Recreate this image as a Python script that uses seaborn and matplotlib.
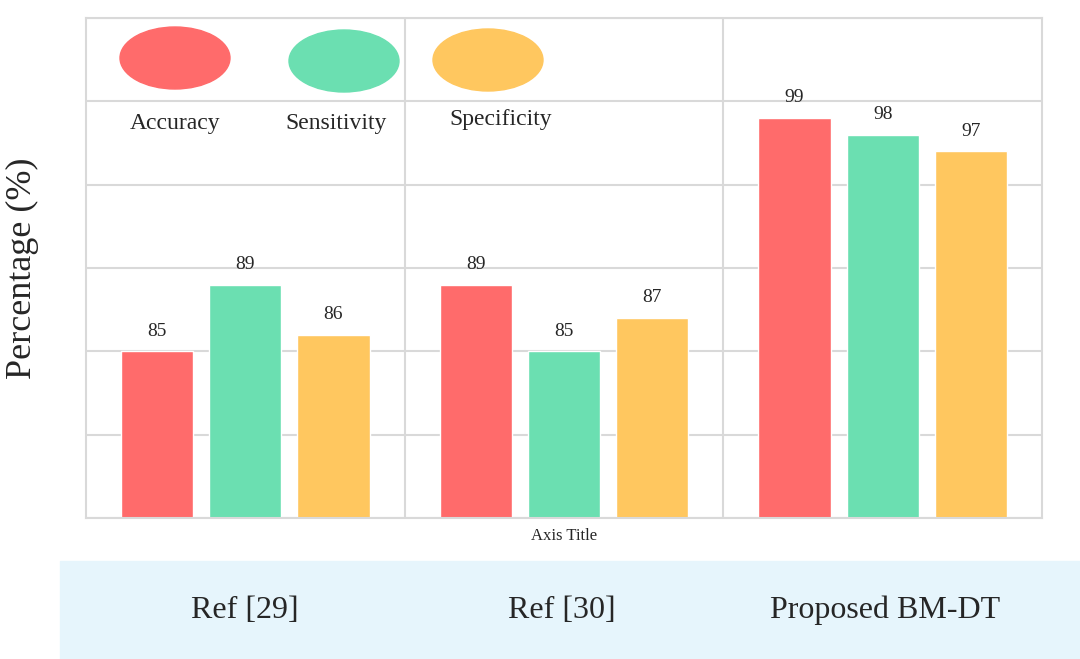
import matplotlib
matplotlib.use("Agg")
import matplotlib.pyplot as plt
import seaborn as sns
import pandas as pd
from matplotlib.patches import Ellipse, Rectangle

categories = ["Ref [29]", "Ref [30]", "Proposed BM-DT"]
metrics = ["Accuracy", "Sensitivity", "Specificity"]
accuracy = [85, 89, 99]
sensitivity = [89, 85, 98]
specificity = [86, 87, 97]
colors = ["#FF6B6B", "#6BDFB1", "#FFC75F"]

rows = []
for i, c in enumerate(categories):
    for m, vals in zip(metrics, [accuracy, sensitivity, specificity]):
        rows.append({"cat": c, "metric": m, "val": vals[i]})
df = pd.DataFrame(rows)

sns.set_theme(style="white")
plt.rcParams['font.family'] = ['Liberation Serif', 'DejaVu Serif']

fig = plt.figure(figsize=(10.8, 6.59), dpi=100)
ax = fig.add_axes([86/1080, 1-518/659, (1042-86)/1080, 500/659])
sns.barplot(data=df, x="cat", y="val", hue="metric", palette=colors, ax=ax,
            width=0.83, gap=0.18, legend=False, saturation=1)
ax.set_ylim(75, 105)
ax.set_xlim(-0.5, 2.5)
ax.set_yticks([75, 80, 85, 90, 95, 100, 105])
ax.set_yticklabels([])
ax.tick_params(length=0)
ax.grid(axis="y", color="#d9d9d9", lw=1.5)
ax.set_axisbelow(True)
for x in [0.5, 1.5]:
    ax.axvline(x, color="#d9d9d9", lw=1.5)
for s in ax.spines.values():
    s.set_color("#d9d9d9"); s.set_linewidth(1.5)
ax.set_xticklabels([])
ax.set_xlabel("Axis Title", fontsize=12, labelpad=4)
ax.set_ylabel("Percentage (%)", fontsize=26, labelpad=30)

for cont in ax.containers:
    for bar in cont:
        h = bar.get_height()
        ax.text(bar.get_x()+bar.get_width()/2, h+0.7, f"{int(h)}",
                ha="center", va="bottom", fontsize=14)

# legend ellipses
for (cx, cy, lab, num, col, tc, lx, ly) in [
    (175, 58, "Accuracy", "01", colors[0], "white", 175, 123),
    (344, 61, "Sensitivity", "02", colors[1], "white", 336, 123),
    (488, 60, "Specificity", "03", colors[2], "black", 501, 120)]:
    e = Ellipse((cx/1080, 1-cy/659), 110/1080, 62/659, transform=fig.transFigure,
                color=col, zorder=5)
    fig.patches.append(e)
    fig.text(cx/1080, 1-cy/659, num, ha="center", va="center", fontsize=19, color=tc)
    fig.text(lx/1080, 1-ly/659, lab, ha="center", va="center", fontsize=17)

# bottom band
fig.patches.append(Rectangle((60/1080, 0), 1020/1080, 98/659, transform=fig.transFigure,
                             color="#E6F5FC", zorder=0))
for x, lab in [(245, "Ref [29]"), (562, "Ref [30]"), (885, "Proposed BM-DT")]:
    fig.text(x/1080, 1-610/659, lab, ha="center", va="center", fontsize=23)

fig.savefig("out.png", dpi=100)
